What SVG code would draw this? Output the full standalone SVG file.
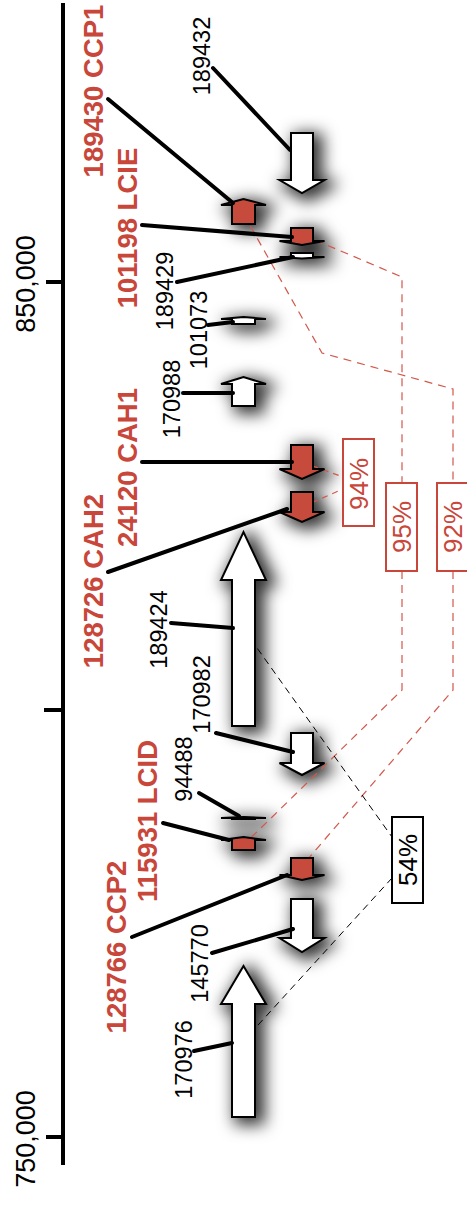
<svg xmlns="http://www.w3.org/2000/svg" xmlns:xlink="http://www.w3.org/1999/xlink" width="467" height="1205" viewBox="0 0 467 1205">
<style>
.ax{stroke:#000;stroke-width:4;fill:none;stroke-linecap:butt}
.ld{stroke:#000;stroke-width:4;fill:none;stroke-linecap:round}
.gw{fill:#fff;stroke:#000;stroke-width:2}
.gr{fill:#c64b3d;stroke:#000;stroke-width:2}
.dr{stroke:#d2584b;stroke-width:1.2;fill:none;stroke-dasharray:8 6}
.dk{stroke:#000;stroke-width:1;fill:none;stroke-dasharray:7 5}
.bx{fill:#fff;stroke:#c9463a;stroke-width:2}
.bk{fill:#fff;stroke:#000;stroke-width:2}
text{font-family:"Liberation Sans",Arial,Helvetica,sans-serif;text-anchor:middle}
.lb{font-size:23.5px;fill:#000}
.lr{font-size:27.5px;font-weight:bold;fill:#c8473a}
.la{font-size:27px;fill:#000}
.pr{font-size:26px;fill:#c9463a}
.pk{font-size:26px;fill:#000}
</style>
<defs>
<filter id="shadow" x="-150%" y="-150%" width="400%" height="400%">
<feMorphology in="SourceAlpha" operator="dilate" radius="3" result="d"/>
<feGaussianBlur in="d" stdDeviation="8"/>
<feOffset dx="6" dy="4" result="b"/>
<feFlood flood-color="#000" flood-opacity="0.8"/>
<feComposite in2="b" operator="in"/>
</filter>
</defs>
<rect width="467" height="1205" fill="#fff"/>
<g id="shadows" filter="url(#shadow)">
<use xlink:href="#s-189432"/><use xlink:href="#s-101198"/><use xlink:href="#s-189429"/><use xlink:href="#s-24120"/><use xlink:href="#s-128726"/><use xlink:href="#s-170982"/><use xlink:href="#s-128766"/><use xlink:href="#s-145770"/>
<use xlink:href="#s-189430"/><use xlink:href="#s-101073"/><use xlink:href="#s-170988"/><use xlink:href="#s-189424"/><use xlink:href="#s-94488"/><use xlink:href="#s-115931"/><use xlink:href="#s-170976"/>
</g>
<g id="axis">
<line class="ax" x1="63" y1="3" x2="63" y2="1165"/>
<line class="ax" x1="46" y1="282" x2="63" y2="282"/>
<line class="ax" x1="44" y1="710" x2="63" y2="710"/>
<line class="ax" x1="46" y1="1137" x2="63" y2="1137"/>
<text class="la" transform="translate(35,284) rotate(-90)">850,000</text>
<text class="la" transform="translate(35,1139) rotate(-90)">750,000</text>
</g>
<g id="connectors">
<path class="dr" d="M243.5 214 L322 353 L453 389 L453 483 M453 571 L453 690 L302 866"/>
<path class="dr" d="M302 234.5 L402 277 L402 483 M402 571 L402 690 L243.5 845"/>
<path class="dr" d="M302 462 L343 477 M302 507 L343 489" style="stroke-dasharray:6 5"/>
<path class="dk" d="M243.5 629 L392 837 M392 878 L243.5 1041"/>
</g>
<g id="nodes">
<g id="g-189432"><polygon id="s-189432" class="gw" points="291,133 313,133 313,180 324.5,180 302,193 279.5,180 291,180"/></g>
<g id="g-101198"><polygon id="s-101198" class="gr" points="291,228 313,228 313,241 324.5,241 302,245 279.5,241 291,241"/></g>
<g id="g-189429"><polygon id="s-189429" class="gw" points="291,253 313,253 313,257 324.5,257 302,258.5 279.5,257 291,257"/></g>
<g id="g-24120"><polygon id="s-24120" class="gr" points="291,445 313,445 313,469 324.5,469 302,479 279.5,469 291,469"/></g>
<g id="g-128726"><polygon id="s-128726" class="gr" points="291,492 313,492 313,512 324.5,512 302,522 279.5,512 291,512"/></g>
<g id="g-170982"><polygon id="s-170982" class="gw" points="291,733 313,733 313,763 324.5,763 302,775 279.5,763 291,763"/></g>
<g id="g-128766"><polygon id="s-128766" class="gr" points="291,858 313,858 313,875 324.5,875 302,880 279.5,875 291,875"/></g>
<g id="g-145770"><polygon id="s-145770" class="gw" points="291,899 313,899 313,938 324.5,938 302,952 279.5,938 291,938"/></g>
<g id="g-189430"><polygon id="s-189430" class="gr" points="232,224 255,224 255,205 266,205 243.5,199 221,205 232,205"/></g>
<g id="g-101073"><polygon id="s-101073" class="gw" points="232,324 255,324 255,319 266,319 243.5,317 221,319 232,319"/></g>
<g id="g-170988"><polygon id="s-170988" class="gw" points="232,406 255,406 255,384 266,384 243.5,377 221,384 232,384"/></g>
<g id="g-189424"><polygon id="s-189424" class="gw" points="232,726 255,726 255,580 266,580 243.5,532 221,580 232,580"/></g>
<g id="g-94488"><polygon id="s-94488" class="gw" points="232,819 255,819 255,818 266,818 243.5,817 221,818 232,818"/></g>
<g id="g-115931"><polygon id="s-115931" class="gr" points="232,850 255,850 255,840 266,840 243.5,837 221,840 232,840"/></g>
<g id="g-170976"><polygon id="s-170976" class="gw" points="232,1117 255,1117 255,1004 266,1004 243.5,966 221,1004 232,1004"/></g>
</g>
<g id="leaders">
<line class="ld" x1="213" y1="68" x2="290" y2="150"/>
<line class="ld" x1="108" y1="99" x2="233" y2="203"/>
<line class="ld" x1="142" y1="225" x2="292" y2="237"/>
<line class="ld" x1="177" y1="282" x2="293" y2="257"/>
<line class="ld" x1="208" y1="325" x2="233" y2="322"/>
<line class="ld" x1="183" y1="393" x2="233" y2="393"/>
<line class="ld" x1="142" y1="462" x2="292" y2="462"/>
<line class="ld" x1="108" y1="572" x2="287" y2="509"/>
<line class="ld" x1="171" y1="623" x2="233" y2="628"/>
<line class="ld" x1="216" y1="733" x2="293" y2="752"/>
<line class="ld" x1="199" y1="793" x2="239" y2="816"/>
<line class="ld" x1="163" y1="823" x2="229" y2="840"/>
<line class="ld" x1="132" y1="937" x2="287" y2="875"/>
<line class="ld" x1="212" y1="953" x2="293" y2="929"/>
<line class="ld" x1="194" y1="1051" x2="232" y2="1043"/>
</g>
<g id="labels">
<text class="lb" transform="translate(210,56) rotate(-90)">189432</text>
<text class="lr" transform="translate(103,91) rotate(-90)">189430 CCP1</text>
<text class="lr" transform="translate(137,228) rotate(-90)">101198 LCIE</text>
<text class="lb" transform="translate(173,291) rotate(-90)">189429</text>
<text class="lb" transform="translate(207,330) rotate(-90)">101073</text>
<text class="lb" transform="translate(180,399) rotate(-90)">170988</text>
<text class="lr" transform="translate(137,467.5) rotate(-90)">24120 CAH1</text>
<text class="lr" transform="translate(103,581) rotate(-90)">128726 CAH2</text>
<text class="lb" transform="translate(167,629.5) rotate(-90)">189424</text>
<text class="lb" transform="translate(210,694.5) rotate(-90)">170982</text>
<text class="lb" transform="translate(192,769) rotate(-90)">94488</text>
<text class="lr" transform="translate(157,821) rotate(-90)">115931 LCID</text>
<text class="lr" transform="translate(126,947) rotate(-90)">128766 CCP2</text>
<text class="lb" transform="translate(208,963.5) rotate(-90)">145770</text>
<text class="lb" transform="translate(192,1059.5) rotate(-90)">170976</text>
</g>
<g id="boxes">
<g id="b-94"><rect class="bx" x="343" y="439" width="31" height="87"/><text class="pr" transform="translate(368,484) rotate(-90)">94%</text></g>
<g id="b-95"><rect class="bx" x="386" y="483" width="31" height="88"/><text class="pr" transform="translate(411,527) rotate(-90)">95%</text></g>
<g id="b-92"><rect class="bx" x="437" y="483" width="31" height="88"/><text class="pr" transform="translate(462,527) rotate(-90)">92%</text></g>
<g id="b-54"><rect class="bk" x="392" y="817" width="31" height="86"/><text class="pk" transform="translate(417,860) rotate(-90)">54%</text></g>
</g>
</svg>
